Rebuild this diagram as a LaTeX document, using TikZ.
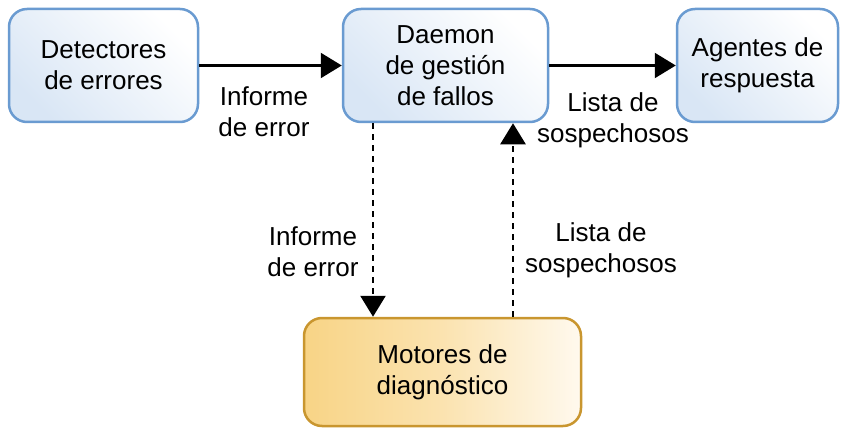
\documentclass[tikz,border=0pt]{standalone}
\usepackage{fontspec}
\setmainfont{Liberation Sans}
\usetikzlibrary{arrows.meta}
\definecolor{boxblue}{HTML}{6A9BD1}
\definecolor{fillblue}{HTML}{D9E6F5}
\definecolor{boxorange}{HTML}{C9962F}
\definecolor{fillorange}{HTML}{F8D486}
\definecolor{fillorangeL}{HTML}{FFF9EE}
\tikzset{
  txt/.style={font=\fontsize{26}{31}\selectfont, align=center, text=black},
  bluebox/.style={txt, draw=boxblue, line width=2.5pt, rounded corners=18pt,
    top color=white, bottom color=fillblue, shading angle=-45,
    inner sep=0pt},
  orangebox/.style={txt, draw=boxorange, line width=2.5pt, rounded corners=18pt,
    left color=fillorange, right color=fillorangeL, middle color=fillorange!60!fillorangeL,
    inner sep=0pt},
  flow/.style={line width=2.2pt, -{Triangle[length=21pt,width=25pt]}},
  dflow/.style={flow, line width=2.6pt, dash pattern=on 6pt off 5pt},
  lbl/.style={txt}
}
\begin{document}
\begin{tikzpicture}[x=1pt,y=-1pt]
\useasboundingbox (0,0) rectangle (847,428);
% process boxes
\node[bluebox, minimum width=189pt, minimum height=113pt] (det) at (103.5,65.5) {Detectores\\de errores};
\node[bluebox, minimum width=205pt, minimum height=113pt] (dae) at (445.5,65.5) {Daemon\\de gestión\\de fallos};
\node[bluebox, minimum width=161pt, minimum height=113pt] (age) at (757.5,65.5) {Agentes de\\respuesta};
\node[orangebox, minimum width=277pt, minimum height=108pt] (mot) at (442.5,372) {Motores de\\diagnóstico};
% columns of the vertical links
\coordinate (dn) at (373,0);
\coordinate (up) at (513,0);
% links
\draw[flow] (det) -- (dae);
\draw[flow] (dae) -- (age);
\draw[dflow] (dae.south -| dn) -- (mot.north -| dn);
\draw[dflow] (mot.north -| up) -- (dae.south -| up);
% link labels
\node[lbl] (l1) at (264,112) {Informe\\de error};
\node[lbl] (l2) at (613,120) {Lista de\\sospechosos};
\node[lbl] (l3) at (313,252) {Informe\\de error};
\node[lbl] (l4) at (601,250) {Lista de\\sospechosos};
\end{tikzpicture}
\end{document}
